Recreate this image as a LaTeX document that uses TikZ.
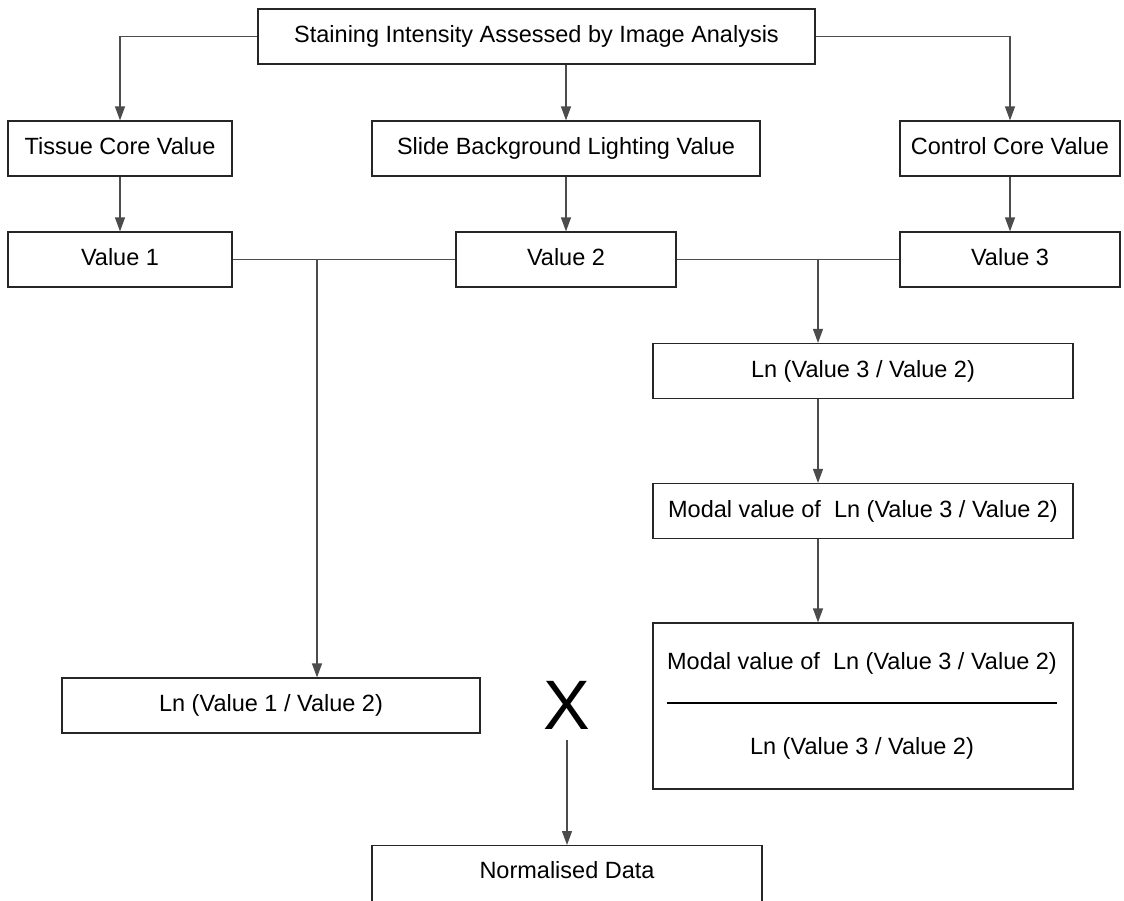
\documentclass[tikz,border=0pt]{standalone}
\usepackage{fontspec}
\setmainfont{Liberation Sans}
\usetikzlibrary{arrows.meta}
\tikzset{
  box/.style={draw=black!85, line width=1.2pt, inner sep=0pt, minimum height=55pt, text height=17pt, text depth=5pt, font=\fontsize{23.5}{28}\selectfont},
  txt/.style={inner sep=0pt, text height=17pt, text depth=5pt, font=\fontsize{23.5}{28}\selectfont},
  link/.style={draw=black!70, line width=1.2pt},
  flow/.style={link, -{Triangle[length=14pt,width=10pt]}}
}

\begin{document}
\begin{tikzpicture}[x=1pt, y=-1pt]
		%%%%% START %%%%%
		\path[use as bounding box] (0, 0) rectangle (1124, 900);
		\clip (0, 0) rectangle (1124, 900);

		\node[box, minimum width=557pt] (top) at (536.5, 36.5) {Staining Intensity Assessed by Image Analysis};

		\node[box, minimum width=224pt] (tissue) at (120, 148.5) {Tissue Core Value};
		\node[box, minimum width=388pt] (slide) at (566, 148.5) {Slide Background Lighting Value};
		\node[box, minimum width=220pt] (control) at (1010, 148.5) {Control Core Value};

		\node[box, minimum width=224pt] (val1) at (120, 259.5) {Value 1};
		\node[box, minimum width=220pt] (val2) at (566, 259.5) {Value 2};
		\node[box, minimum width=220pt] (val3) at (1010, 259.5) {Value 3};

		\node[box, minimum width=420pt] (lnthree) at (863, 371) {Ln (Value 3 / Value 2)};
		\node[box, minimum width=420pt] (modal) at (863, 511) {Modal value of\ \ Ln (Value 3 / Value 2)};

		% fraction box
		\node[box, minimum width=420pt, minimum height=166pt] (frac) at (863, 706) {};
		\node[txt] (fracnum) at (862, 663) {Modal value of\ \ Ln (Value 3 / Value 2)};
		\node[txt] (fracden) at (862, 748) {Ln (Value 3 / Value 2)};
		\draw[black, line width=1.8pt] (fracnum.west |- 0, 703) -- (fracnum.east |- 0, 703);

		\node[box, minimum width=418pt] (lnone) at (271, 705.5) {Ln (Value 1 / Value 2)};
		\node[inner sep=0pt, font=\fontsize{70}{70}\selectfont] (times) at (567, 705) {X};
		\node[box, minimum width=390pt, minimum height=80pt, anchor=north] (norm) at (567, 845) {};
		\node[txt] (normtxt) at (567, 872) {Normalised Data};

		\coordinate (j1) at (317, 259.5);
		\coordinate (j2) at (818, 259.5);

		\draw[flow] (top.west) -| (tissue.north);
		\draw[flow] (top.east) -| (control.north);
		\draw[flow] (slide.north |- top.south) -- (slide.north);

		\draw[flow] (tissue) -- (val1);
		\draw[flow] (slide) -- (val2);
		\draw[flow] (control) -- (val3);

		\draw[link] (val1) -- (val2);
		\draw[link] (val2) -- (val3);
		\draw[flow] (j1) -- (j1 |- lnone.north);
		\draw[flow] (j2) -- (j2 |- lnthree.north);

		\draw[flow] (j2 |- lnthree.south) -- (j2 |- modal.north);
		\draw[flow] (j2 |- modal.south) -- (j2 |- frac.north);

		\draw[flow] (567, 740) -- (norm.north);
		%%%%% END %%%%%
	\end{tikzpicture}
\end{document}
